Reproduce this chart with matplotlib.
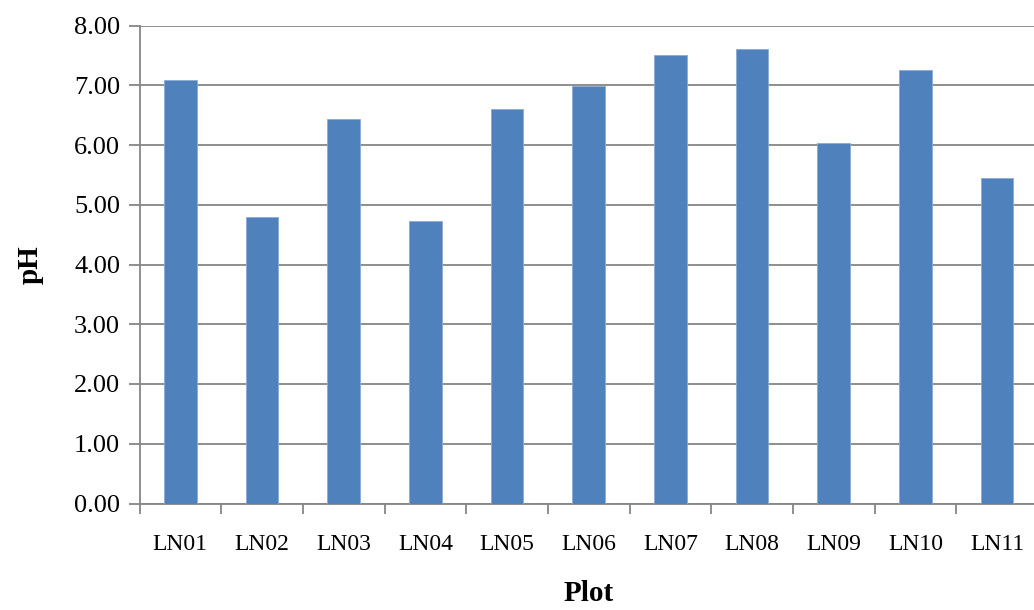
import matplotlib.pyplot as plt
import numpy as np

plots = ['LN01', 'LN02', 'LN03', 'LN04', 'LN05', 'LN06',
         'LN07', 'LN08', 'LN09', 'LN10', 'LN11']
ph_values = [7.09, 4.80, 6.43, 4.72, 6.60, 6.99, 7.51, 7.60, 6.04, 7.26, 5.44]


def create_ph_chart():
    """Bar chart of soil pH for each plot."""
    plt.rcParams['font.family'] = ['Liberation Serif', 'DejaVu Serif']

    fig = plt.figure(figsize=(10.34, 6.10), dpi=100)
    # plot area runs slightly past the right edge of the figure
    ax = fig.add_axes([139.5 / 1034, 1 - 503.5 / 610,
                       (1038 - 139.5) / 1034, (503.5 - 25.5) / 610])

    x = np.arange(len(plots))
    ax.bar(x, ph_values, width=0.4, color='#4F81BD',
           edgecolor='#8AAAD6', linewidth=0.6, zorder=3)

    ax.set_xlim(-0.5, len(plots) - 0.5)
    ax.set_ylim(0, 8)
    ax.set_yticks(np.arange(0, 9, 1))
    ax.set_yticklabels([f'{v:.2f}' for v in np.arange(0, 9, 1)], fontsize=19)

    # category labels in the middle, tick marks on the boundaries
    ax.set_xticks(x)
    ax.set_xticklabels(plots, fontsize=17)
    ax.tick_params(axis='x', which='major', length=0, pad=22)
    ax.set_xticks(np.arange(-0.5, len(plots), 1), minor=True)
    ax.tick_params(axis='x', which='minor', length=7, width=1.3,
                   color='#868686', direction='out')
    ax.tick_params(axis='y', length=8, width=1.3, color='#868686', pad=6)

    ax.grid(True, axis='y', color='#868686', linewidth=1.3, zorder=0)
    for side in ['top', 'right']:
        ax.spines[side].set_visible(False)
    for side in ['left', 'bottom']:
        ax.spines[side].set_color('#868686')
        ax.spines[side].set_linewidth(1.3)

    ax.set_ylabel('pH', fontsize=21, fontweight='bold', labelpad=22)
    ax.set_xlabel('Plot', fontsize=21, fontweight='bold', labelpad=18)

    fig.savefig('out.png', dpi=100)
    plt.close(fig)


def main():
    create_ph_chart()


if __name__ == "__main__":
    main()
